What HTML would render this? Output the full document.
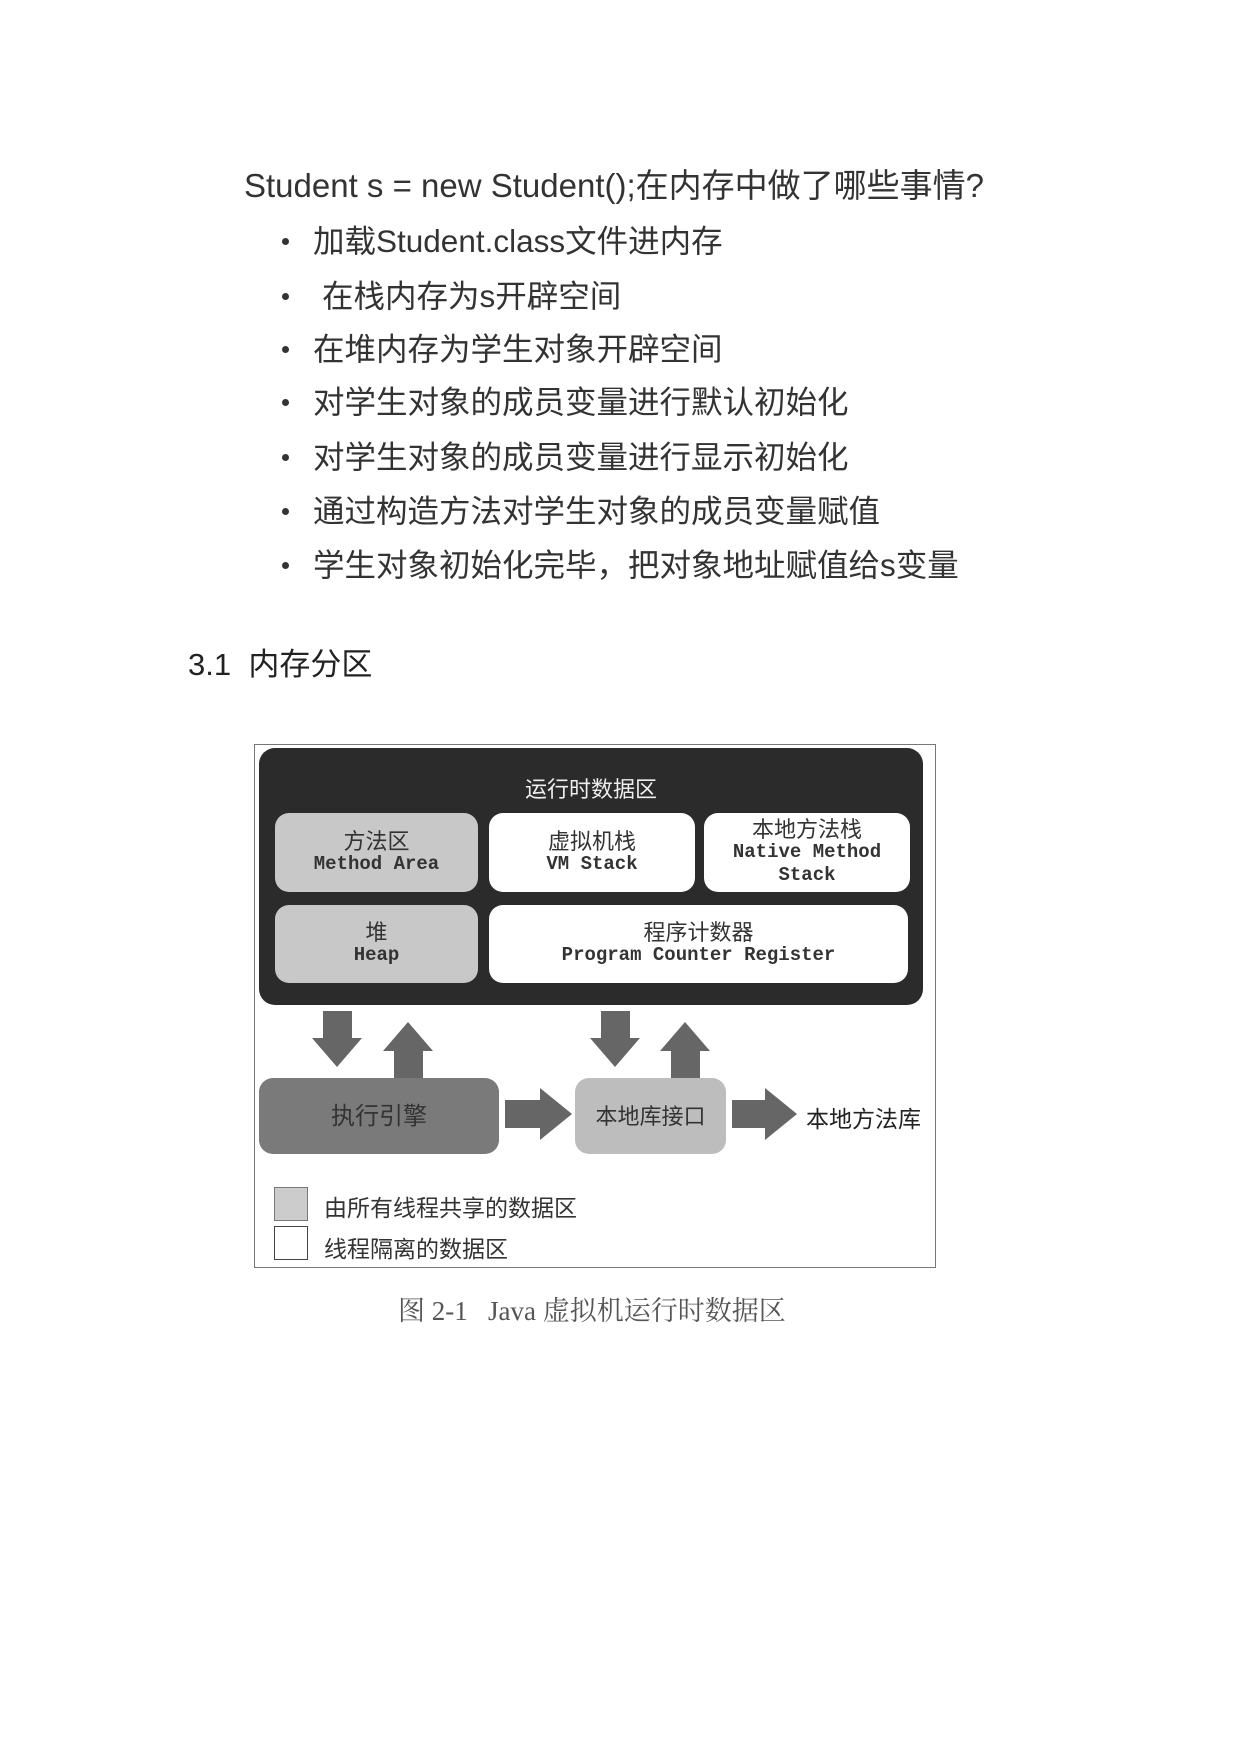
<!DOCTYPE html>
<html><head><meta charset="utf-8"><style>
body{margin:0;background:#fff;}
#p{position:relative;width:1240px;height:1754px;overflow:hidden;background:#fff;font-family:"Liberation Sans","Noto Sans CJK SC",sans-serif;}
.a{position:absolute;white-space:nowrap;}
.t{font-size:31.5px;color:#333;line-height:36px;}
.dot{position:absolute;width:7px;height:7px;border-radius:50%;background:#333;}
.bx{position:absolute;border-radius:14px;text-align:center;color:#333;display:flex;flex-direction:column;justify-content:center;align-items:center;font-size:22px;line-height:23px;}
.bx .e{font-family:"Liberation Mono",monospace;font-size:19px;font-weight:bold;}
.g{background:#c8c8c8;}
.w{background:#fff;}
</style></head><body><div id="p">
<div class="a t" style="left:244px;top:168px;font-size:33px;">Student s = new Student();在内存中做了哪些事情?</div>
<div class="dot" style="left:282px;top:238px"></div><div class="a t" style="left:313px;top:223px">加载Student.class文件进内存</div>
<div class="dot" style="left:282px;top:293px"></div><div class="a t" style="left:322px;top:278px">在栈内存为s开辟空间</div>
<div class="dot" style="left:282px;top:346px"></div><div class="a t" style="left:313px;top:331px">在堆内存为学生对象开辟空间</div>
<div class="dot" style="left:282px;top:399px"></div><div class="a t" style="left:313px;top:384px">对学生对象的成员变量进行默认初始化</div>
<div class="dot" style="left:282px;top:454px"></div><div class="a t" style="left:313px;top:439px">对学生对象的成员变量进行显示初始化</div>
<div class="dot" style="left:282px;top:508px"></div><div class="a t" style="left:313px;top:493px">通过构造方法对学生对象的成员变量赋值</div>
<div class="dot" style="left:282px;top:562px"></div><div class="a t" style="left:313px;top:547px">学生对象初始化完毕，把对象地址赋值给s变量</div>
<div class="a t" style="left:188px;top:647px;color:#222;font-size:31px">3.1&nbsp; 内存分区</div>

<div class="a" style="left:254px;top:744px;width:680px;height:522px;border:1px solid #777;"></div>
<div class="a" style="left:259px;top:748px;width:664px;height:257px;background:#2b2b2b;border-radius:16px;"></div>
<div class="a" style="left:259px;top:772px;width:664px;text-align:center;color:#eee;font-size:22px;">运行时数据区</div>
<div class="bx g" style="left:275px;top:813px;width:203px;height:79px;">方法区<span class="e">Method Area</span></div>
<div class="bx w" style="left:489px;top:813px;width:206px;height:79px;">虚拟机栈<span class="e">VM Stack</span></div>
<div class="bx w" style="left:704px;top:813px;width:206px;height:79px;">本地方法栈<span class="e">Native Method<br>Stack</span></div>
<div class="bx g" style="left:275px;top:905px;width:203px;height:78px;">堆<span class="e">Heap</span></div>
<div class="bx w" style="left:489px;top:905px;width:419px;height:78px;">程序计数器<span class="e">Program Counter Register</span></div>

<svg class="a" style="left:0;top:0" width="1240" height="1754">
<g fill="#666">
<polygon points="323,1011 352,1011 352,1038 362,1038 337,1067 312,1038 323,1038"/>
<polygon points="394,1078 423,1078 423,1051 433,1051 408,1022 383,1051 394,1051"/>
<polygon points="601,1011 630,1011 630,1038 640,1038 615,1067 590,1038 601,1038"/>
<polygon points="671,1078 700,1078 700,1051 710,1051 685,1022 660,1051 671,1051"/>
<polygon points="505,1100 540,1100 540,1088 572,1114 540,1140 540,1128 505,1128"/>
<polygon points="732,1100 765,1100 765,1088 797,1114 765,1140 765,1128 732,1128"/>
</g>
</svg>
<div class="bx" style="left:259px;top:1078px;width:240px;height:76px;background:#7a7a7a;font-size:24px;color:#333;">执行引擎</div>
<div class="bx" style="left:575px;top:1078px;width:151px;height:76px;background:#bdbdbd;font-size:22px;color:#333;">本地库接口</div>
<div class="a" style="left:806px;top:1100px;font-size:23px;color:#222;">本地方法库</div>
<div class="a" style="left:274px;top:1187px;width:32px;height:32px;background:#ccc;border:1px solid #777;"></div>
<div class="a" style="left:274px;top:1226px;width:32px;height:32px;background:#fff;border:1px solid #444;"></div>
<div class="a" style="left:324px;top:1189px;font-size:23px;color:#333;">由所有线程共享的数据区</div>
<div class="a" style="left:324px;top:1230px;font-size:23px;color:#333;">线程隔离的数据区</div>
<div class="a" style="left:398px;top:1289px;font-size:27px;color:#555;font-family:'Liberation Serif','Noto Serif CJK SC',serif;">图 2-1&nbsp;&nbsp; Java 虚拟机运行时数据区</div>
</div></body></html>
